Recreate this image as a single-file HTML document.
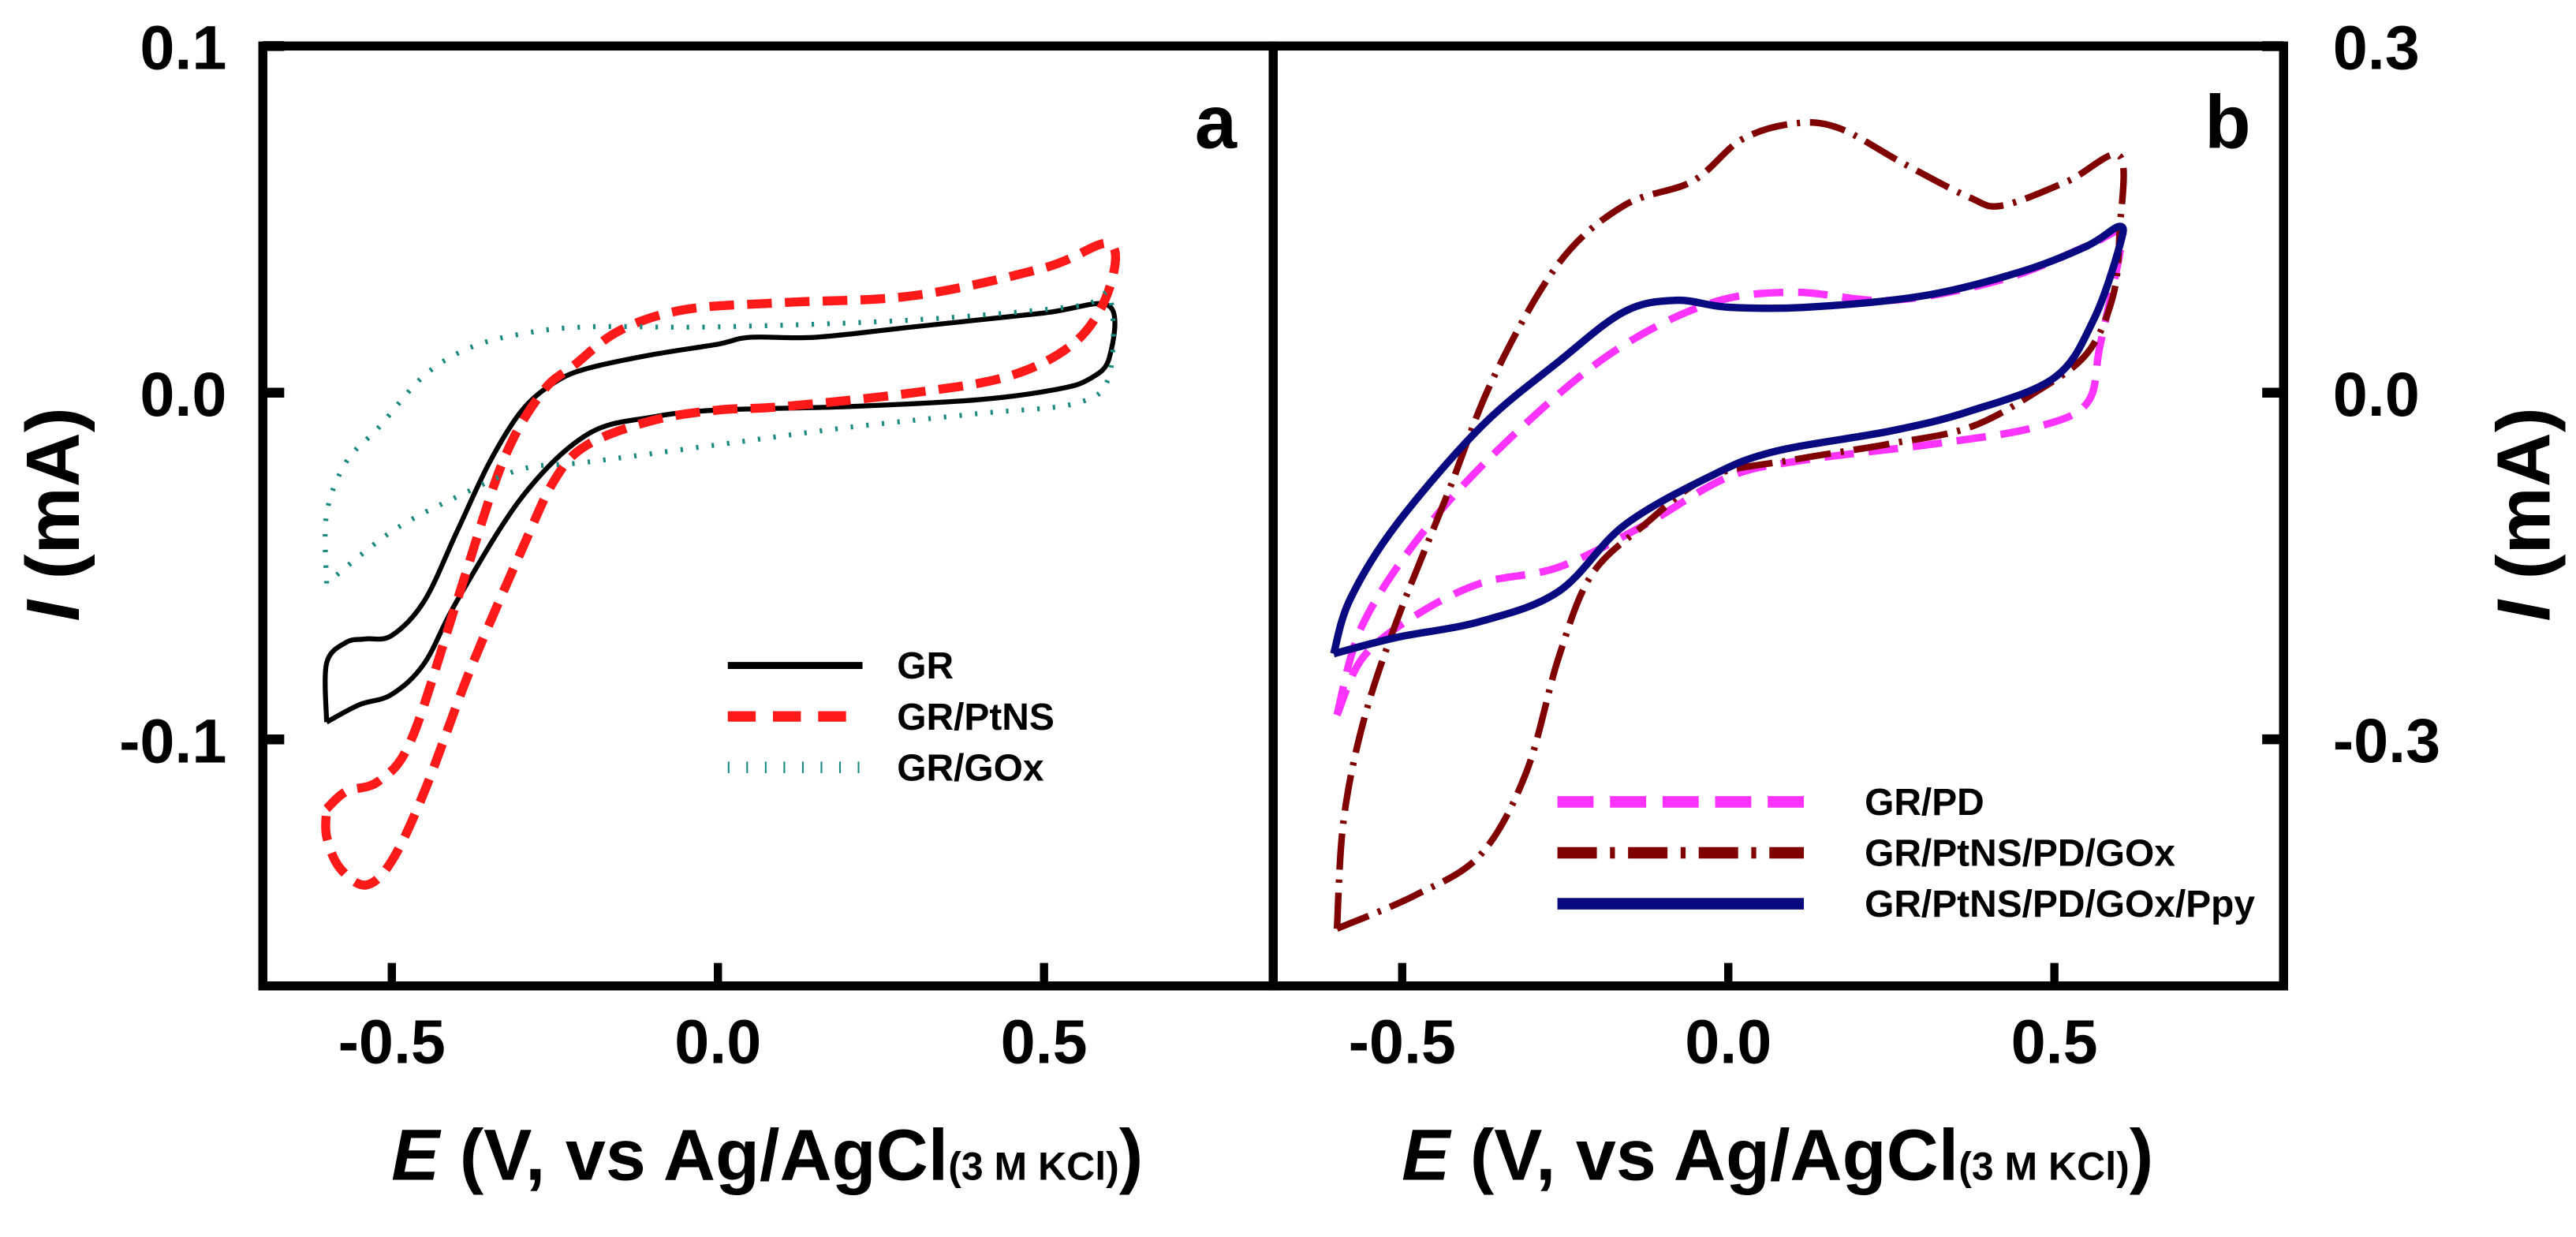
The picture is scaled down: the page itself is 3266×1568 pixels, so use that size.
<!DOCTYPE html>
<html><head><meta charset="utf-8"><style>
html,body{margin:0;padding:0;background:#fff}
svg{display:block}
text{font-family:"Liberation Sans",Arial,sans-serif;font-weight:bold}
</style></head><body>
<svg id="chart" width="3266" height="1568" viewBox="0 0 1568 752.8" preserveAspectRatio="none" xmlns="http://www.w3.org/2000/svg">
<g id="pa"></g>
<g id="pb"></g>
<text transform="translate(48,313) rotate(-90)" text-anchor="middle" font-size="46"><tspan font-style="italic">I</tspan> (mA)</text>
<text transform="translate(1552,313) rotate(-90)" text-anchor="middle" font-size="46"><tspan font-style="italic">I</tspan> (mA)</text>
<text x="467" y="718" text-anchor="middle" font-size="44"><tspan font-style="italic">E</tspan> (V, vs Ag/AgCl<tspan font-size="24">(3 M KCl)</tspan>)</text>
<text x="1082" y="718" text-anchor="middle" font-size="44"><tspan font-style="italic">E</tspan> (V, vs Ag/AgCl<tspan font-size="24">(3 M KCl)</tspan>)</text>
<text x="740" y="90" text-anchor="middle" font-size="46">a</text>
<text x="1356" y="90" text-anchor="middle" font-size="46">b</text>
</svg>
<script>
const NS='http://www.w3.org/2000/svg';
// Panel a data
const xTicksA=[-0.5,0.0,0.5];
const xTickLabelsA=['-0.5','0.0','0.5'];
const yTicksA=[0.1,0.0,-0.1];
const yTickLabelsA=['0.1','0.0','-0.1'];
const grX=[-0.6,-0.6,-0.57,-0.54,-0.5,-0.45,-0.4,-0.35,-0.3,-0.25,-0.2,-0.1,0,0.05,0.15,0.3,0.5,0.6,0.6,0.57,0.52,0.4,0.2,0,-0.1,-0.2,-0.3,-0.4,-0.45,-0.5,-0.55,-0.6];
const grY=[-0.095,-0.078,-0.072,-0.071,-0.07,-0.06,-0.04,-0.02,-0.005,0.003,0.007,0.011,0.014,0.016,0.016,0.019,0.023,0.025,0.010,0.004,0.001,-0.002,-0.004,-0.005,-0.007,-0.012,-0.03,-0.06,-0.078,-0.087,-0.09,-0.095];
const ptX=[-0.6,-0.57,-0.52,-0.47,-0.4,-0.33,-0.27,-0.22,-0.15,-0.05,0.1,0.3,0.5,0.6,0.6,0.55,0.45,0.3,0.1,0,-0.1,-0.2,-0.25,-0.3,-0.38,-0.45,-0.5,-0.54,-0.58,-0.6,-0.6];
const ptY=[-0.12,-0.115,-0.112,-0.1,-0.06,-0.02,0.0,0.008,0.018,0.024,0.026,0.028,0.036,0.043,0.03,0.015,0.005,0.0,-0.004,-0.005,-0.008,-0.015,-0.025,-0.045,-0.08,-0.115,-0.135,-0.142,-0.137,-0.128,-0.12];
const goxX=[-0.6,-0.6,-0.57,-0.52,-0.45,-0.38,-0.3,-0.2,0,0.3,0.55,0.6,0.6,0.55,0.4,0.2,0,-0.2,-0.3,-0.4,-0.5,-0.6];
const goxY=[-0.055,-0.035,-0.02,-0.01,0.005,0.013,0.017,0.019,0.019,0.021,0.025,0.028,0.005,-0.003,-0.006,-0.01,-0.015,-0.02,-0.022,-0.03,-0.04,-0.055];
// Panel b data
const xTicksB=[-0.5,0.0,0.5];
const xTickLabelsB=['-0.5','0.0','0.5'];
const yTicksB=[0.3,0.0,-0.3];
const yTickLabelsB=['0.3','0.0','-0.3'];
const pdX=[-0.6,-0.56,-0.46,-0.33,-0.18,-0.03,0.1,0.25,0.42,0.55,0.6,0.6,0.57,0.55,0.47,0.32,0.12,0,-0.13,-0.26,-0.38,-0.48,-0.56,-0.6];
const pdY=[-0.279,-0.2,-0.115,-0.037,0.034,0.077,0.087,0.08,0.098,0.127,0.14,0.12,0.041,-0.009,-0.03,-0.044,-0.058,-0.073,-0.115,-0.151,-0.165,-0.193,-0.229,-0.279];
const goX=[-0.6,-0.59,-0.56,-0.51,-0.43,-0.36,-0.26,-0.16,-0.055,0.02,0.1,0.17,0.27,0.37,0.42,0.52,0.6,0.6,0.59,0.55,0.47,0.37,0.25,0.1,-0.03,-0.13,-0.21,-0.26,-0.31,-0.38,-0.48,-0.6];
const goY=[-0.464,-0.371,-0.286,-0.2,-0.087,0.013,0.112,0.162,0.183,0.219,0.233,0.229,0.198,0.169,0.162,0.183,0.205,0.14,0.084,0.034,0.0,-0.03,-0.044,-0.058,-0.073,-0.115,-0.158,-0.229,-0.329,-0.4,-0.435,-0.464];
const ppyX=[-0.605,-0.58,-0.51,-0.38,-0.26,-0.16,-0.08,0,0.12,0.3,0.45,0.55,0.6,0.6,0.56,0.5,0.37,0.25,0.07,-0.03,-0.16,-0.26,-0.38,-0.51,-0.605];
const ppyY=[-0.226,-0.179,-0.115,-0.03,0.027,0.07,0.08,0.074,0.074,0.084,0.105,0.127,0.144,0.127,0.063,0.013,-0.016,-0.033,-0.051,-0.073,-0.115,-0.172,-0.198,-0.212,-0.226];

function el(tag,attrs,parent){const e=document.createElementNS(NS,tag);for(const k in attrs)e.setAttribute(k,attrs[k]);parent.appendChild(e);return e;}
function smooth(pts){let d='M'+pts[0][0]+','+pts[0][1];for(let i=0;i<pts.length-1;i++){const p0=pts[Math.max(i-1,0)],p1=pts[i],p2=pts[i+1],p3=pts[Math.min(i+2,pts.length-1)];const c1=[p1[0]+(p2[0]-p0[0])/6,p1[1]+(p2[1]-p0[1])/6],c2=[p2[0]-(p3[0]-p1[0])/6,p2[1]-(p3[1]-p1[1])/6];d+=`C${c1[0]},${c1[1]} ${c2[0]},${c2[1]} ${p2[0]},${p2[1]}`;}return d;}

function panel(g,opt){
  const sx=v=>opt.x0px+(v-opt.x0v)*397;
  const sy=v=>239-v*opt.ypx;
  opt.xt.forEach((v,i)=>{
    const t=el('line',{x1:sx(v),x2:sx(v),y1:600,y2:586,stroke:'#000','stroke-width':5},g);
    
    
    const l=el('text',{x:sx(v),y:647,'text-anchor':'middle','font-size':38},g);l.textContent=opt.xl[i];
    
    
  });
  opt.yt.forEach((v,i)=>{
    const t=el('line',{x1:opt.ytx,x2:opt.ytx+opt.ytd,y1:sy(v),y2:sy(v),stroke:'#000','stroke-width':6},g);
    
    
    const l=el('text',{x:opt.ylx,y:sy(v)+14,'text-anchor':opt.anchor,'font-size':38},g);l.textContent=opt.yl[i];
    
    
  });
  opt.series.forEach(s=>{
    const pts=s.x.map((v,i)=>[sx(v),sy(s.y[i])]);
    const p=el('path',{d:smooth(pts),fill:'none',stroke:s.c,'stroke-width':s.w,'stroke-dasharray':s.dash||'none','stroke-linejoin':'round'},g);
    
    
  });
  opt.series.forEach((s,i)=>{
    const y=opt.legY+i*opt.legDy;
    let l;
    if(s.hatch){
      l=el('line',{x1:opt.legX1,x2:opt.legX2,y1:y,y2:y,stroke:s.c,'stroke-width':7,'stroke-dasharray':'1 10.3'},g);
    } else {
      l=el('line',{x1:opt.legX1,x2:opt.legX2,y1:y,y2:y,stroke:s.c,'stroke-width':s.lw||s.w,'stroke-dasharray':s.ldash||s.dash||'none'},g);
    }
    
    
    const t=el('text',{x:opt.legTx,y:y+8,'font-size':opt.legFs},g);t.textContent=s.label;
    
    
  });
  const f=el('rect',{x:opt.fx,y:28,width:615,height:572,fill:'none',stroke:'#000','stroke-width':5.5},g);
  
  
}
panel(document.getElementById('pa'),{x0px:437,x0v:0,ypx:2110,xt:xTicksA,xl:xTickLabelsA,yt:yTicksA,yl:yTickLabelsA,ytx:160,ytd:13,ylx:138,anchor:'end',fx:160,
  legX1:443,legX2:525,legTx:546,legY:405,legDy:31,legFs:23,
  series:[{x:grX,y:grY,c:'#000',w:3,lw:4.3,name:'series-gr',label:'GR'},
          {x:ptX,y:ptY,c:'#ff1a1a',w:5.5,lw:6.4,dash:'15 8',ldash:'17 10.5',name:'series-gr-ptns',label:'GR/PtNS'},
          {x:goxX,y:goxY,c:'#1a8a80',w:3,dash:'1.5 8',hatch:true,name:'series-gr-gox',label:'GR/GOx'}]});
panel(document.getElementById('pb'),{x0px:1052,x0v:0,ypx:703,xt:xTicksB,xl:xTickLabelsB,yt:yTicksB,yl:yTickLabelsB,ytx:1390,ytd:-13,ylx:1420,anchor:'start',fx:775,
  legX1:948,legX2:1098,legTx:1135,legY:488,legDy:31,legFs:23,
  series:[{x:pdX,y:pdY,c:'#ff33ff',w:4.5,lw:7,dash:'18 9',ldash:'22 10',name:'series-gr-pd',label:'GR/PD'},
          {x:goX,y:goY,c:'#800000',w:4,lw:7,dash:'22 6 2 6',ldash:'24 8 3 8',name:'series-gr-ptns-pd-gox',label:'GR/PtNS/PD/GOx'},
          {x:ppyX,y:ppyY,c:'#0a0a80',w:4.5,lw:7,name:'series-gr-ptns-pd-gox-ppy',label:'GR/PtNS/PD/GOx/Ppy'}]});
</script>
</body></html>
